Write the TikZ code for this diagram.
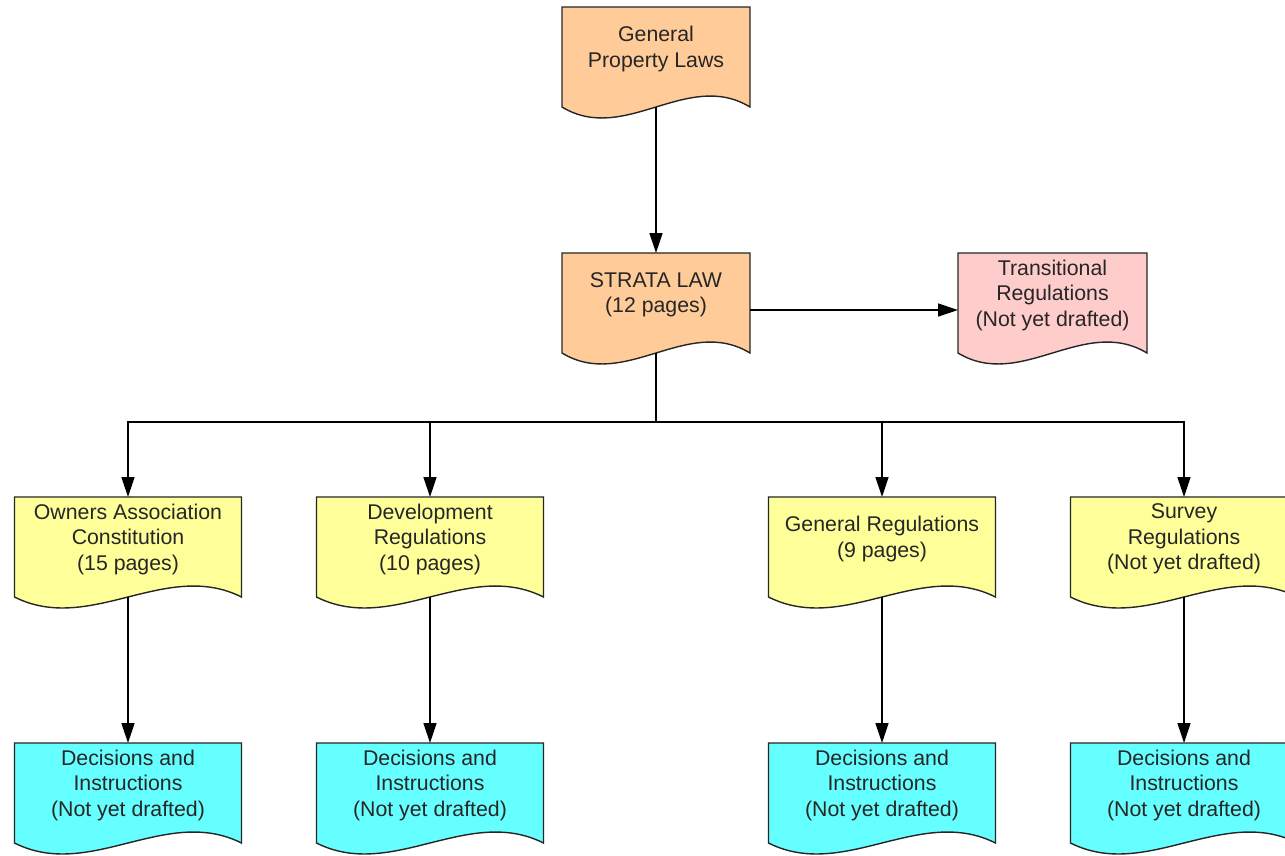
\documentclass[tikz,border=0pt]{standalone}
\usepackage{fontspec}
\setmainfont{Liberation Sans}
\usetikzlibrary{arrows.meta}

\definecolor{peach}{HTML}{FFCC99}
\definecolor{rose}{HTML}{FFCCCC}
\definecolor{lemon}{HTML}{FFFF99}
\definecolor{aqua}{HTML}{66FFFF}

\tikzset{
  docline/.style={draw=black!85,line width=1.4pt},
  doctext/.style={align=center,text=black!85,inner sep=0pt,
    font=\fontsize{21.3}{25.5}\selectfont},
  arr/.style={line width=1.4pt,-{Triangle[length=20pt,width=13pt]}},
  lnk/.style={line width=1.4pt}
}

% document shape: name, left, top, width, fill, text
\newcommand{\docbox}[6]{%
  \draw[docline,fill=#5] (#2,#3) -- ({#2},{#3+100})
    .. controls ({#2+#4/3},{#3+138}) and ({#2+2*#4/3},{#3+62}) .. ({#2+#4},{#3+100})
    -- ({#2+#4},{#3}) -- cycle;
  \node[doctext] (#1) at ({#2+#4/2},{#3+42}) {#6};
  \coordinate (#1-top) at ({#2+#4/2},{#3});
  \coordinate (#1-bot) at ({#2+#4/2},{#3+100});
  \coordinate (#1-west) at ({#2},{#3+57});
  \coordinate (#1-east) at ({#2+#4},{#3+57});
}

\begin{document}
\begin{tikzpicture}[x=1pt,y=-1pt]
  \useasboundingbox[fill=white] (0,0) rectangle (1285,855);

  \docbox{gpl}{562}{7}{188}{peach}{General\\Property Laws}
  \docbox{strata}{562}{253}{188}{peach}{STRATA LAW\\(12 pages)}
  \docbox{trans}{958}{253}{189}{rose}{Transitional\\Regulations\\(Not yet drafted)}

  \docbox{owners}{14.5}{497}{227}{lemon}{Owners Association\\Constitution\\(15 pages)}
  \docbox{devel}{316.5}{497}{227}{lemon}{Development\\Regulations\\(10 pages)}
  \docbox{genreg}{768.5}{497}{227}{lemon}{General Regulations\\(9 pages)}
  \docbox{survey}{1070.5}{497}{227}{lemon}{Survey\\Regulations\\(Not yet drafted)}

  \foreach \n/\x in {owners/14.5,devel/316.5,genreg/768.5,survey/1070.5} {
    \docbox{\n-dec}{\x}{743}{227}{aqua}{Decisions and\\Instructions\\(Not yet drafted)}
  }

  % connectors
  \draw[arr] (gpl-bot) -- (strata-top);
  \draw[arr] (strata-east) -- (trans-west);
  \coordinate (bus) at (656,422);
  \draw[lnk] (strata-bot) -- (bus);
  \foreach \n in {owners,devel,genreg,survey} {
    \draw[arr] (bus) -| (\n-top);
    \draw[arr] (\n-bot) -- (\n-dec-top);
  }
\end{tikzpicture}
\end{document}
